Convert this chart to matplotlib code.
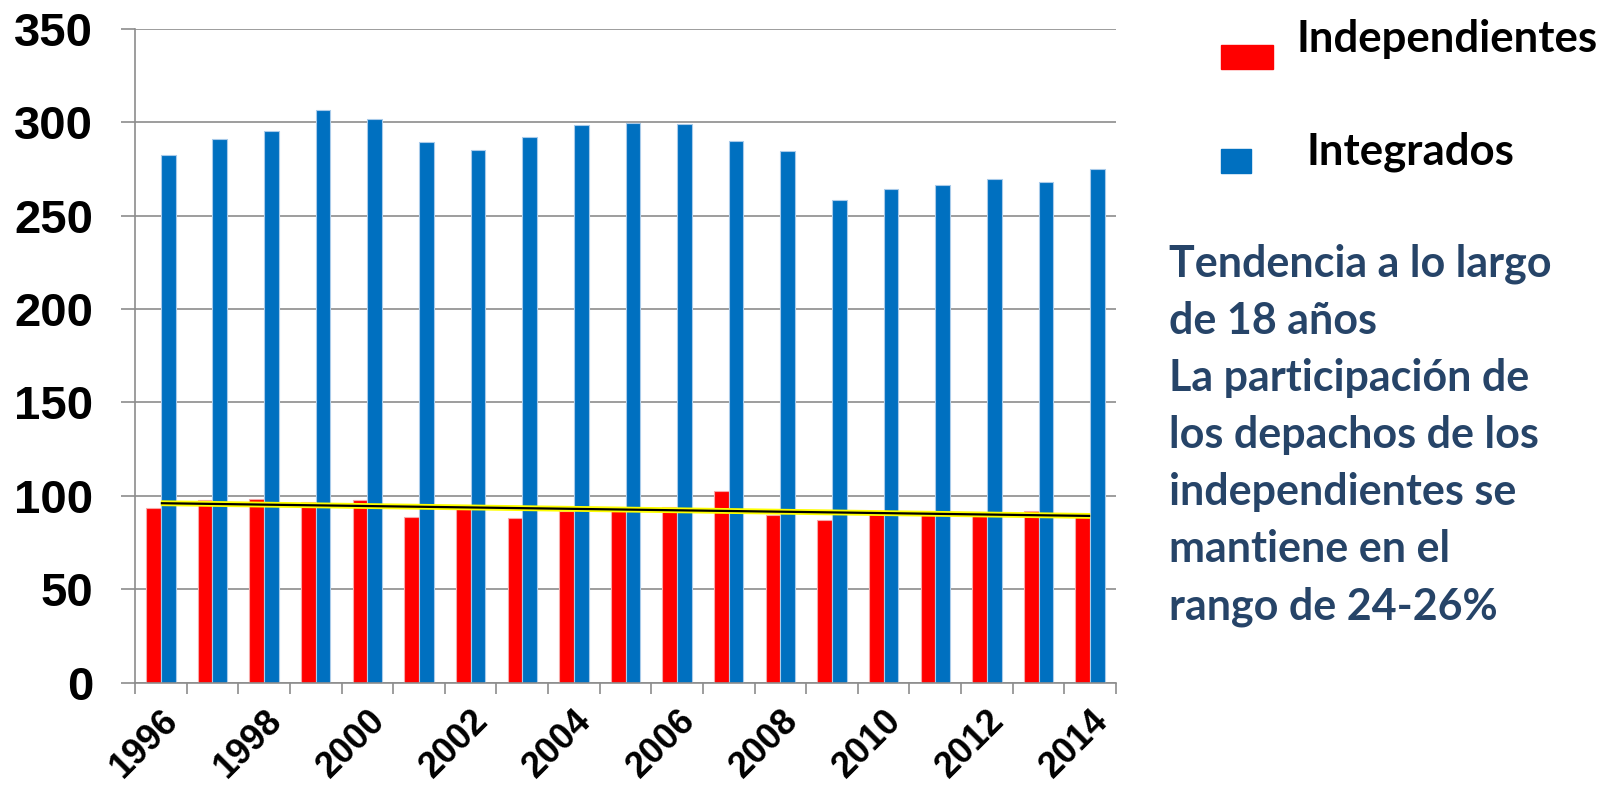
import numpy as np
import matplotlib.pyplot as plt
import matplotlib.patheffects as pe
from matplotlib.patches import Rectangle

years = list(range(1996, 2015))
independientes = [93.5, 97.6, 98.1, 96.5, 97.6, 88.5, 92.8, 87.9, 92.0, 91.7,
                  94.2, 102.6, 89.5, 86.9, 90.3, 89.7, 89.3, 91.7, 88.5]
integrados = [282.5, 290.9, 295.4, 306.6, 301.8, 289.1, 285.2, 292.0, 298.6, 299.5,
              299.1, 290.0, 284.7, 258.3, 264.2, 266.5, 269.5, 268.2, 275.0]
label_years = years[::2]
legend_labels = ['Independientes', 'Integrados']
note_lines = ['Tendencia a lo largo',
              'de 18 años',
              'La participación de',
              'los depachos de los',
              'independientes se',
              'mantiene en el',
              'rango de 24-26%']

RED = '#FF0000'
BLUE = '#0070C0'
GRAY = '#8C8C8C'
NAVY = '#264468'

W, H = 1621, 789
fig = plt.figure(figsize=(W / 100, H / 100), dpi=100)
ax = fig.add_axes([135 / W, 1 - 682.5 / H, (1116 - 135) / W, (682.5 - 28.7) / H])

x = np.arange(len(years))
bw = 0.285
ax.bar(x - bw / 2, independientes, bw, color=RED, edgecolor='#F7A8A8', linewidth=0.8, zorder=2)
ax.bar(x + bw / 2, integrados, bw, color=BLUE, edgecolor='#A9CBEA', linewidth=0.8, zorder=2)

# linear trend of the independientes series
coef = np.polyfit(x, independientes, 1)
tx = np.array([x[0], x[-1]])
ax.plot(tx, np.polyval(coef, tx), color='black', lw=1.6, zorder=4, solid_capstyle='butt',
        path_effects=[pe.Stroke(linewidth=4.2, foreground='#FFFF00'), pe.Normal()])

ax.set_xlim(-0.5, len(years) - 0.5)
ax.set_ylim(0, 350)
ax.set_yticks(range(0, 351, 50))
ax.yaxis.grid(True, color=GRAY, lw=1.2, zorder=0)
ax.set_axisbelow(True)
for s in ['top', 'right']:
    ax.spines[s].set_visible(False)
for s in ['left', 'bottom']:
    ax.spines[s].set_color(GRAY)
    ax.spines[s].set_linewidth(1.2)

ax.tick_params(axis='y', length=10, width=1.2, color=GRAY, pad=20,
               labelsize=34)
for t in ax.get_yticklabels():
    t.set_fontfamily('Liberation Sans')
    t.set_fontweight('bold')

ax.set_xticks(x[::2])
ax.set_xticklabels([str(y) for y in label_years])
ax.set_xticks(np.arange(-0.5, len(years)), minor=True)
ax.tick_params(axis='x', which='major', length=0, pad=15, labelsize=26)
ax.tick_params(axis='x', which='minor', length=8, width=1.2, color=GRAY)
for t in ax.get_xticklabels():
    t.set_fontfamily('Liberation Sans')
    t.set_fontweight('bold')
    t.set_rotation(45)
    t.set_ha('right')
    t.set_va('top')
    t.set_rotation_mode('anchor')

# legend drawn by hand, as in the slide
def fx(px):
    return px / W

def fy(py):
    return 1 - py / H

fig.add_artist(Rectangle((fx(1221), fy(69)), 52 / W, 24 / H, color=RED, transform=fig.transFigure))
fig.add_artist(Rectangle((fx(1221), fy(173)), 30 / W, 24 / H, color=BLUE, transform=fig.transFigure))
fig.text(fx(1297), fy(52), legend_labels[0], family='Lato', weight='bold', size=31.5,
         color='black', va='baseline', ha='left')
fig.text(fx(1307), fy(165), legend_labels[1], family='Lato', weight='bold', size=31.5,
         color='black', va='baseline', ha='left')

for i, line in enumerate(note_lines):
    fig.text(fx(1169), fy(276.5 + i * 57.2), line, family='Lato', weight='bold', size=31,
             color=NAVY, va='baseline', ha='left')

fig.savefig('out.png', dpi=100)
